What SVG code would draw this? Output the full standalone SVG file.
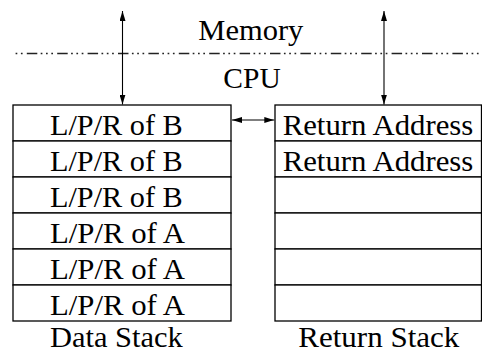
<svg xmlns="http://www.w3.org/2000/svg" width="482" height="354" viewBox="0 0 482 354">
<style>
  .cell { fill: #fff; stroke: #000; stroke-width: 1.3; }
  .t { font-family: 'Liberation Serif', Tinos, 'Times New Roman', Times, serif; font-size: 30px; fill: #000; }
  .conn { stroke: #000; stroke-width: 1.1; fill: none; }
  .sep { stroke: #222; stroke-width: 1.6; fill: none; stroke-dasharray: 10.5 3.4 1.7 3.6 1.7 3.6 1.7 4.2; stroke-dashoffset: 16.6; }
</style>
<defs>
  <marker id="ah" viewBox="0 0 10 6" refX="10" refY="3" markerWidth="10" markerHeight="6" markerUnits="userSpaceOnUse" orient="auto-start-reverse">
    <path d="M0,0 L10,3 L0,6 Z" fill="#000"/>
  </marker>
</defs>
<rect width="482" height="354" fill="#fff"/>

<g id="memory-label">
  <text class="t" x="198.3" y="40" textLength="105" lengthAdjust="spacingAndGlyphs">Memory</text>
</g>
<g id="cpu-label">
  <text class="t" x="223.3" y="88" textLength="57.4" lengthAdjust="spacingAndGlyphs">CPU</text>
</g>

<g id="data-stack">
  <rect class="cell" x="13" y="105" width="218" height="36"/>
  <rect class="cell" x="13" y="141" width="218" height="36"/>
  <rect class="cell" x="13" y="177" width="218" height="36"/>
  <rect class="cell" x="13" y="213" width="218" height="36"/>
  <rect class="cell" x="13" y="249" width="218" height="36"/>
  <rect class="cell" x="13" y="285" width="218" height="36"/>
  <text class="t" x="50" y="135" textLength="132.7" lengthAdjust="spacingAndGlyphs">L/P/R of B</text>
  <text class="t" x="50" y="171" textLength="132.7" lengthAdjust="spacingAndGlyphs">L/P/R of B</text>
  <text class="t" x="50" y="207" textLength="132.7" lengthAdjust="spacingAndGlyphs">L/P/R of B</text>
  <text class="t" x="50" y="243" textLength="135" lengthAdjust="spacingAndGlyphs">L/P/R of A</text>
  <text class="t" x="50" y="279" textLength="135" lengthAdjust="spacingAndGlyphs">L/P/R of A</text>
  <text class="t" x="50" y="315" textLength="135" lengthAdjust="spacingAndGlyphs">L/P/R of A</text>
  <text class="t" x="50" y="347" textLength="132.7" lengthAdjust="spacingAndGlyphs">Data Stack</text>
</g>

<g id="return-stack">
  <rect class="cell" x="275" y="105" width="206.5" height="36"/>
  <rect class="cell" x="275" y="141" width="206.5" height="36"/>
  <rect class="cell" x="275" y="177" width="206.5" height="36"/>
  <rect class="cell" x="275" y="213" width="206.5" height="36"/>
  <rect class="cell" x="275" y="249" width="206.5" height="36"/>
  <rect class="cell" x="275" y="285" width="206.5" height="36"/>
  <text class="t" x="282.7" y="135" textLength="190.6" lengthAdjust="spacingAndGlyphs">Return Address</text>
  <text class="t" x="282.7" y="171" textLength="190.6" lengthAdjust="spacingAndGlyphs">Return Address</text>
  <text class="t" x="298.3" y="347" textLength="161" lengthAdjust="spacingAndGlyphs">Return Stack</text>
</g>

<g id="connectors">
  <line class="sep" x1="13" y1="53.5" x2="482" y2="53.5"/>
  <line class="conn" x1="122.5" y1="11" x2="122.5" y2="104.5" marker-start="url(#ah)" marker-end="url(#ah)"/>
  <line class="conn" x1="384" y1="11" x2="384" y2="104.5" marker-start="url(#ah)" marker-end="url(#ah)"/>
  <line class="conn" x1="232" y1="120" x2="274.3" y2="120" marker-start="url(#ah)" marker-end="url(#ah)"/>
</g>
</svg>
